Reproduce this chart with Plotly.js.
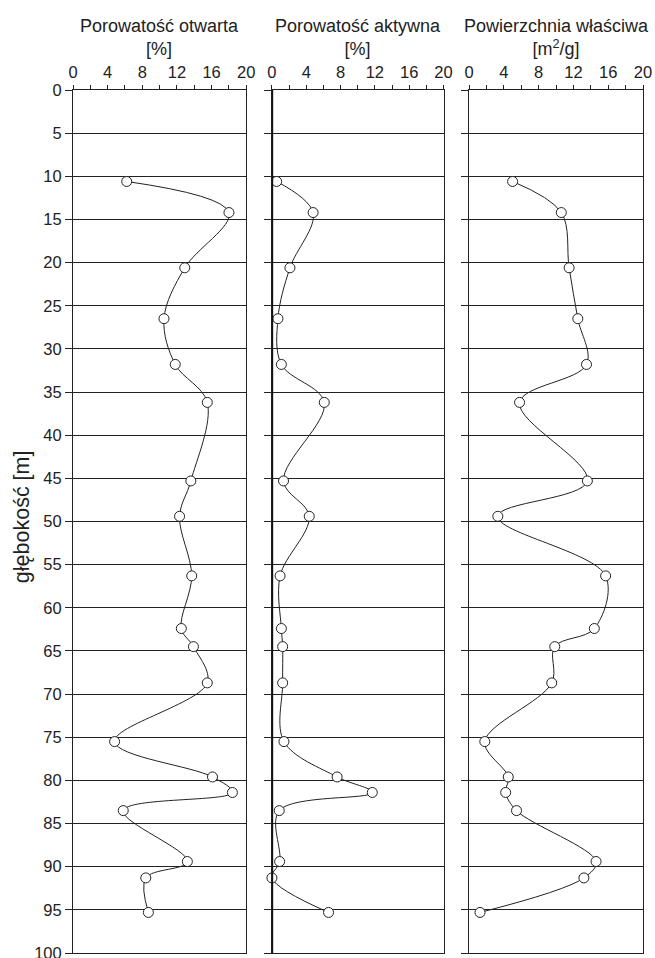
<!DOCTYPE html>
<html><head><meta charset="utf-8">
<script src="https://cdn.plot.ly/plotly-3.0.1.min.js"></script>
<style>html,body{margin:0;padding:0;background:#fff}#chart{width:655px;height:958px}</style>
</head><body><div id="chart"></div>
<script>
const depth = [10.6, 14.2, 20.6, 26.5, 31.8, 36.2, 45.3, 49.4, 56.3, 62.4, 64.5, 68.7, 75.5, 79.6, 81.4, 83.5, 89.4, 91.3, 95.3];
const porOtwarta = [6.2, 18.0, 12.9, 10.5, 11.8, 15.5, 13.6, 12.3, 13.7, 12.5, 13.9, 15.5, 4.8, 16.1, 18.4, 5.8, 13.2, 8.4, 8.7];
const porAktywna = [0.55, 4.8, 2.1, 0.7, 1.1, 6.1, 1.35, 4.35, 0.95, 1.1, 1.25, 1.25, 1.4, 7.6, 11.7, 0.85, 0.9, 0.0, 6.6];
const powWlasciwa = [5.0, 10.6, 11.5, 12.5, 13.5, 5.8, 13.6, 3.3, 15.7, 14.4, 9.85, 9.5, 1.8, 4.5, 4.2, 5.45, 14.6, 13.2, 1.25];
const panelTitles = ["Porowatość otwarta<br>[%]", "Porowatość aktywna<br>[%]", "Powierzchnia właściwa<br>[m<sup>2</sup>/g]"];
const xTicks = [0, 4, 8, 12, 16, 20];
const xMinorTicks = [2, 6, 10, 14, 18];
const yTicks = [0, 5, 10, 15, 20, 25, 30, 35, 40, 45, 50, 55, 60, 65, 70, 75, 80, 85, 90, 95, 100];
const yTitle = "głębokość [m]";

const FONT = "Liberation Sans, Arial, sans-serif";
const series = [porOtwarta, porAktywna, powWlasciwa];
const sfx = ["", "2", "3"];
const domains = [[0, 0.304], [0.349, 0.65], [0.695, 1]];

const traces = series.map((vals, i) => ({
  x: vals, y: depth, type: "scatter", mode: "lines+markers",
  xaxis: "x" + sfx[i], yaxis: "y" + sfx[i],
  line: {color: "#222", width: 1, shape: "spline", smoothing: 1},
  marker: {symbol: "circle", size: 10, color: "#fff", line: {color: "#222", width: 1}},
  cliponaxis: false, showlegend: false, hoverinfo: "skip"
}));

const layout = {
  width: 655, height: 958,
  margin: {l: 73, r: 12, t: 90, b: 5},
  paper_bgcolor: "#fff", plot_bgcolor: "#fff",
  font: {family: FONT, size: 16.5, color: "#222"},
  showlegend: false,
  annotations: [{
    text: yTitle, xref: "paper", yref: "paper", x: 0, y: 0.505, xshift: -51,
    xanchor: "center", yanchor: "middle", textangle: -90, showarrow: false,
    font: {family: FONT, size: 21.5, color: "#222"}
  }],
  shapes: [{type: "line", xref: "x2", yref: "y2", x0: 0, x1: 0, y0: 0, y1: 100,
            line: {color: "#111", width: 2.5}, layer: "above"}]
};

for (let i = 0; i < 3; i++) {
  layout["xaxis" + sfx[i]] = {
    domain: domains[i], anchor: "y" + sfx[i], side: "top",
    range: [0, 20], tickvals: xTicks, ticktext: xTicks.map(String),
    ticks: "outside", ticklen: 4, tickcolor: "#222", tickwidth: 1,
    minor: {tickvals: xMinorTicks, ticks: "outside", ticklen: 4, tickcolor: "#222", tickwidth: 1, showgrid: false},
    showgrid: false, zeroline: false,
    showline: true, linecolor: "#222", linewidth: 1, mirror: true,
    tickfont: {family: FONT, size: 16.5, color: "#222"}, fixedrange: true
  };
  layout["yaxis" + sfx[i]] = {
    domain: [0, 1], anchor: "x" + sfx[i],
    range: [100, 0], tickvals: yTicks, ticktext: yTicks.map(String),
    showticklabels: i === 0, ticklabeloverflow: "allow",
    ticks: "outside", ticklen: 7, tickcolor: "#222", tickwidth: 1,
    showgrid: true, gridcolor: "#222", gridwidth: 1,
    zeroline: false, showline: true, linecolor: "#222", linewidth: 1, mirror: true,
    tickfont: {family: FONT, size: 16.5, color: "#222"}, fixedrange: true
  };
  layout.annotations.push({
    text: panelTitles[i], xref: "x" + sfx[i] + " domain", yref: "paper",
    x: 0.5, y: 1, yshift: 29, xanchor: "center", yanchor: "bottom",
    showarrow: false, align: "center",
    font: {family: FONT, size: 18, color: "#222"}
  });
}

Plotly.newPlot("chart", traces, layout, {staticPlot: true, displayModeBar: false});
</script>
</body></html>
